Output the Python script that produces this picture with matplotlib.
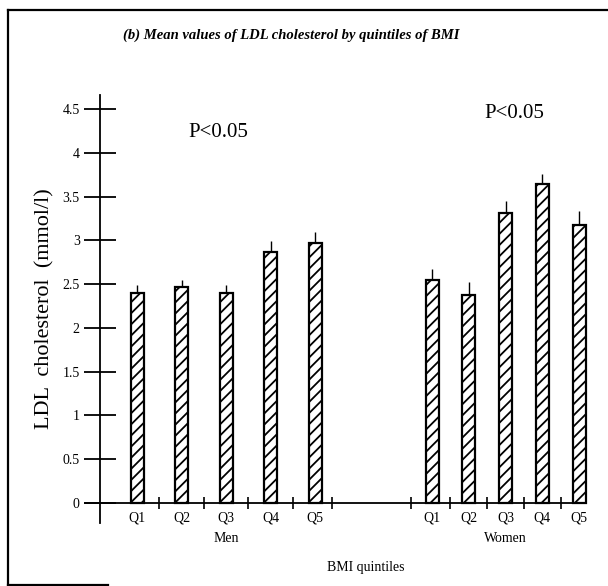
import numpy as np
import matplotlib
matplotlib.use("Agg")
import matplotlib.pyplot as plt
from matplotlib.lines import Line2D

# Mean LDL cholesterol (mmol/l) by BMI quintile
quintiles = ['Q1', 'Q2', 'Q3', 'Q4', 'Q5']
men_mean = [2.40, 2.47, 2.40, 2.87, 2.97]
men_err = [0.09, 0.08, 0.09, 0.12, 0.13]
women_mean = [2.55, 2.37, 3.31, 3.64, 3.18]
women_err = [0.12, 0.15, 0.14, 0.12, 0.15]
y_ticks = [0, 0.5, 1, 1.5, 2, 2.5, 3, 3.5, 4, 4.5]
y_tick_labels = ['0', '0.5', '1', '1.5', '2', '2.5', '3', '3.5', '4', '4.5']

plt.rcParams['font.family'] = ['Liberation Serif', 'DejaVu Serif']
plt.rcParams['hatch.linewidth'] = 1.3

W, H = 608, 586
fig = plt.figure(figsize=(W / 100, H / 100), dpi=100)

# axes in pixel-like x units; y axis runs from px 95 to 523, zero at px 503
px_per_unit = (503 - 109) / 4.5
y_lo = -(523 - 503) / px_per_unit
y_hi = (503 - 95) / px_per_unit
x_left, x_right, x_end = 100, 600, 586
ax = fig.add_axes([x_left / W, (H - 523) / H, (x_right - x_left) / W, (523 - 95) / H])
ax.set_xlim(x_left, x_right)
ax.set_ylim(y_lo, y_hi)

# group layout
men_x = 137 + 44.5 * np.arange(len(quintiles))
women_x = 432 + 36.8 * np.arange(len(quintiles))
bar_w = 13

for xs, means, errs in [(men_x, men_mean, men_err), (women_x, women_mean, women_err)]:
    ax.bar(xs, means, width=bar_w, color='white', edgecolor='black',
           linewidth=1.6, hatch='///', zorder=3)
    ax.errorbar(xs, means, yerr=[np.zeros(len(errs)), errs], fmt='none',
                ecolor='black', elinewidth=1.0, capsize=0, zorder=2)

# axes lines
for s in ['top', 'right']:
    ax.spines[s].set_visible(False)
ax.spines['left'].set_linewidth(1.3)
ax.spines['bottom'].set_position(('data', 0))
ax.spines['bottom'].set_linewidth(1.3)
ax.spines['bottom'].set_bounds(x_left, x_end)
ax.plot([x_left - 15, x_left], [0, 0], color='black', lw=1.3, clip_on=False)

ax.set_yticks(y_ticks)
ax.set_yticklabels(y_tick_labels, fontsize=10)
ax.tick_params(axis='y', direction='inout', length=23, width=1.3, pad=3)

# Q labels under bars, separator ticks between them
all_x = np.concatenate([men_x, women_x])
ax.set_xticks(all_x)
ax.set_xticklabels(quintiles * 2, fontsize=10)
ax.tick_params(axis='x', which='major', length=0, pad=6)
men_sep = np.concatenate([(men_x[:-1] + men_x[1:]) / 2, [men_x[-1] + 17]])
women_sep = np.concatenate([[women_x[0] - 21], (women_x[:-1] + women_x[1:]) / 2])
ax.set_xticks(np.concatenate([men_sep, women_sep]), minor=True)
ax.tick_params(axis='x', which='minor', direction='inout', length=9, width=1.2)

ax.set_ylabel('LDL  cholesterol  (mmol/l)', fontsize=16, labelpad=6)

# group and axis titles
fig.text(men_x.mean() / W, 1 - 539 / H, 'Men', ha='center', va='center', fontsize=10)
fig.text(women_x.mean() / W, 1 - 539 / H, 'Women', ha='center', va='center', fontsize=10)
fig.text(all_x.mean() / W, 1 - 567 / H, 'BMI quintiles', ha='center', va='center', fontsize=10)

fig.text(218 / W, 1 - 133 / H, 'P<0.05', ha='center', va='center', fontsize=15)
fig.text(514 / W, 1 - 114 / H, 'P<0.05', ha='center', va='center', fontsize=15)

fig.text(291 / W, 1 - 35 / H, '(b) Mean values of LDL cholesterol by quintiles of BMI',
         ha='center', va='center', fontsize=10.5, style='italic', fontweight='bold')

# scanned page frame
def frame(x0, y0, x1, y1, lw):
    fig.add_artist(Line2D([x0 / W, x1 / W], [1 - y0 / H, 1 - y1 / H],
                          color='black', lw=lw, transform=fig.transFigure))

frame(8, 10, 8, 585, 1.6)
frame(8, 10, 608, 10, 1.6)
frame(8, 585, 108, 585, 1.6)

fig.savefig('out.png', dpi=100, facecolor='white')
